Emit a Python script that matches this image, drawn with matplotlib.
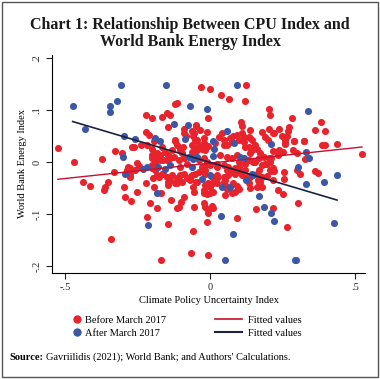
import numpy as np
import matplotlib.pyplot as plt
from matplotlib.lines import Line2D
from matplotlib.patches import Rectangle

plt.rcParams['font.family'] = ['Liberation Serif', 'DejaVu Serif']

# Before March 2017 (x = CPU index, y = WB energy index)
before_pts = [
    (-0.525, 0.028), (-0.468, 0.000), (-0.372, 0.006), (-0.329, 0.021), (-0.303, 0.018),
    (-0.268, 0.029), (-0.240, 0.033), (-0.221, 0.090), (-0.200, 0.085), (-0.167, 0.087),
    (-0.148, 0.094), (-0.123, 0.112), (-0.114, 0.113), (-0.137, 0.090), (-0.223, 0.058),
    (-0.211, 0.052), (-0.192, 0.041), (-0.202, 0.026), (-0.194, 0.013), (-0.202, 0.007),
    (-0.252, -0.001), (-0.244, -0.008), (-0.275, -0.011), (-0.258, -0.015), (-0.332, -0.020),
    (-0.200, -0.012), (-0.147, 0.067), (-0.123, 0.041), (-0.092, 0.063), (-0.089, 0.056),
    (-0.084, 0.051), (-0.094, 0.029), (-0.103, 0.023), (-0.062, 0.060), (-0.058, 0.051),
    (-0.049, 0.069), (-0.063, 0.033), (-0.046, 0.042), (-0.218, 0.033), (-0.264, 0.029),
    (-0.282, -0.009), (-0.287, -0.015), (-0.437, -0.039), (-0.414, -0.046), (-0.362, -0.047),
    (-0.351, -0.039), (-0.297, -0.047), (-0.365, -0.053), (-0.294, -0.067), (-0.272, -0.074),
    (-0.252, -0.058), (-0.277, -0.028), (-0.277, -0.022), (-0.221, -0.041), (-0.208, -0.078),
    (-0.194, -0.047), (-0.185, -0.088), (-0.218, -0.106), (-0.342, -0.148), (-0.168, -0.060),
    (-0.146, -0.119), (-0.168, -0.188), (-0.134, -0.073), (-0.115, -0.089), (-0.107, -0.086),
    (-0.100, -0.076), (-0.090, -0.067), (-0.055, -0.058), (-0.055, -0.086), (-0.061, -0.132),
    (-0.067, -0.174), (-0.008, -0.179), (-0.010, -0.116), (0.092, -0.107), (0.159, -0.091),
    (-0.021, -0.079), (-0.017, -0.086), (-0.006, -0.092), (0.006, -0.085), (0.011, -0.089),
    (-0.006, -0.097), (-0.023, -0.059), (-0.011, -0.062), (0.000, -0.060), (0.011, -0.057),
    (-0.023, -0.053), (-0.017, -0.044), (-0.006, -0.041), (0.011, -0.041), (0.023, -0.041),
    (-0.138, -0.035), (-0.146, -0.044), (-0.115, -0.041), (-0.109, -0.035), (-0.069, -0.035),
    (-0.063, -0.025), (0.058, -0.051), (0.075, -0.060), (0.086, -0.057), (0.098, -0.051),
    (0.080, -0.041), (0.052, -0.035), (0.046, -0.028), (0.063, -0.025), (0.086, -0.022),
    (0.109, -0.025), (0.132, -0.041), (0.161, -0.047), (0.136, -0.028), (-0.161, -0.022),
    (-0.040, -0.019), (-0.017, -0.022), (0.006, -0.028), (0.023, -0.025), (0.052, -0.063),
    (0.055, -0.045), (0.092, -0.045), (0.138, -0.050), (0.177, -0.047), (0.172, -0.038),
    (0.166, -0.035), (0.169, -0.027), (0.197, -0.027), (0.211, -0.017), (0.221, -0.017),
    (0.255, -0.019), (0.255, -0.033), (0.298, -0.015), (0.309, -0.022), (0.361, -0.017),
    (0.372, -0.021), (0.232, -0.054), (0.252, -0.062), (0.215, -0.088), (0.302, -0.079),
    (0.264, -0.124), (-0.031, 0.145), (0.000, 0.140), (0.036, 0.129), (0.066, 0.121),
    (0.121, 0.118), (0.124, 0.148), (-0.048, 0.071), (-0.006, 0.084), (0.106, 0.078),
    (0.111, 0.070), (-0.011, 0.057), (-0.023, 0.037), (-0.029, 0.026), (-0.017, 0.023),
    (-0.006, 0.031), (0.029, 0.049), (0.040, 0.055), (0.046, 0.042), (0.058, 0.033),
    (0.069, 0.046), (0.075, 0.039), (0.092, 0.052), (0.098, 0.042), (0.109, 0.055),
    (0.115, 0.039), (0.121, 0.029), (0.132, 0.049), (0.138, 0.062), (0.144, 0.042),
    (0.155, 0.033), (0.161, 0.026), (-0.052, 0.042), (-0.063, 0.020), (-0.040, 0.033),
    (-0.046, 0.023), (-0.058, 0.014), (-0.121, 0.042), (-0.115, 0.033), (-0.132, 0.023),
    (-0.144, 0.013), (-0.155, 0.020), (-0.167, 0.029), (-0.172, 0.013), (-0.184, 0.010),
    (-0.098, 0.017), (-0.109, 0.004), (-0.092, 0.007), (-0.080, -0.003), (-0.103, -0.009),
    (-0.040, 0.004), (-0.023, 0.007), (-0.011, 0.001), (0.000, -0.006), (-0.029, -0.009),
    (-0.017, -0.015), (0.034, 0.013), (0.058, 0.010), (0.075, 0.007), (0.092, 0.013),
    (0.098, 0.001), (0.121, -0.003), (0.132, 0.004), (0.155, 0.001), (0.167, 0.007),
    (0.023, -0.003), (0.046, -0.006), (0.063, -0.009), (0.086, -0.012), (0.103, -0.019),
    (0.121, -0.015), (-0.184, 0.017), (-0.201, 0.013), (-0.190, 0.001), (-0.172, 0.004),
    (-0.161, 0.004), (-0.149, 0.004), (-0.138, 0.007), (-0.126, 0.010), (-0.201, -0.006),
    (-0.190, -0.015), (-0.184, -0.025), (-0.178, -0.028), (-0.196, -0.031), (-0.167, -0.022),
    (-0.149, -0.028), (-0.144, -0.038), (-0.132, -0.025), (-0.121, -0.041), (-0.115, -0.031),
    (-0.103, -0.025), (-0.098, -0.038), (-0.092, -0.022), (-0.080, -0.031), (-0.069, -0.028),
    (-0.054, -0.022), (-0.049, -0.038), (-0.058, -0.047), (0.172, 0.017), (0.184, 0.010),
    (0.201, 0.007), (0.207, 0.001), (0.190, -0.003), (0.149, 0.001), (0.138, 0.017),
    (0.144, 0.023), (0.132, 0.029), (0.136, 0.046), (0.115, 0.048), (0.080, 0.050),
    (0.046, 0.033), (0.017, 0.036), (-0.057, 0.055), (-0.034, 0.062), (-0.023, 0.046),
    (-0.057, 0.029), (-0.011, -0.003), (-0.023, -0.015), (0.023, -0.009), (0.058, -0.015),
    (0.075, -0.019), (0.098, -0.009), (0.126, -0.028), (0.161, -0.022), (0.178, -0.028),
    (0.167, -0.038), (0.218, -0.035), (0.046, -0.038), (0.023, -0.031), (-0.046, -0.038),
    (0.000, -0.047), (0.202, 0.102), (0.207, 0.090), (0.283, 0.084), (0.382, 0.078),
    (0.362, 0.062), (0.394, 0.060), (0.203, 0.064), (0.218, 0.056), (0.236, 0.063),
    (0.267, 0.060), (0.270, 0.068), (0.178, 0.058), (0.190, 0.049), (0.259, 0.042),
    (0.264, 0.050), (0.287, 0.041), (0.322, 0.041), (0.256, 0.035), (0.385, 0.033),
    (0.397, 0.033), (0.437, 0.035), (0.523, 0.015), (0.284, 0.023), (0.299, 0.017),
    (0.218, 0.021), (0.236, 0.023), (0.325, 0.005), (0.200, 0.042), (0.220, 0.055),
    (0.246, 0.050), (0.257, 0.037), (0.289, 0.040), (0.324, 0.040), (0.252, 0.020),
    (0.234, 0.013), (0.211, 0.007), (0.217, -0.012), (0.206, -0.015), (0.169, -0.015),
    (0.177, -0.006), (0.194, -0.003),
]

# After March 2017
after_pts = [
    (-0.474, 0.108), (-0.433, 0.063), (-0.347, 0.108), (-0.347, 0.096), (-0.321, 0.117),
    (-0.306, 0.148), (-0.298, 0.051), (-0.299, 0.010), (-0.293, -0.023), (-0.258, 0.044),
    (-0.189, 0.047), (-0.173, 0.041), (-0.152, 0.148), (-0.218, -0.010), (-0.230, -0.014),
    (-0.179, -0.009), (-0.155, -0.013), (-0.139, -0.006), (-0.124, 0.073), (-0.086, 0.045),
    (-0.068, 0.108), (-0.076, 0.072), (-0.073, 0.010), (-0.058, 0.005), (-0.064, -0.010),
    (-0.011, 0.102), (0.094, 0.148), (0.336, 0.098), (0.058, 0.060), (0.010, 0.041),
    (0.082, 0.037), (0.209, 0.035), (0.012, 0.025), (0.009, 0.012), (-0.046, 0.010),
    (0.103, 0.010), (0.115, 0.007), (0.331, 0.020), (0.341, 0.008), (0.301, -0.010),
    (0.000, -0.025), (-0.029, -0.033), (0.144, -0.022), (0.149, -0.025), (0.122, -0.035),
    (0.437, -0.025), (0.391, -0.038), (0.331, -0.043), (0.040, -0.047), (0.067, -0.047),
    (0.169, -0.065), (0.184, -0.087), (0.209, -0.097), (0.221, -0.113), (0.037, -0.104),
    (0.078, -0.139), (0.425, -0.117), (0.052, -0.188), (0.291, -0.188), (0.297, -0.188),
    (-0.182, -0.059), (-0.213, -0.121),
]

# fitted values at the ends of each sample
before_fit_y = [-0.033, 0.029]
after_fit_y = [0.078, -0.073]

red = '#e8232c'
blue = '#3b57a5'
red_line = '#c8102e'
navy = '#1c2340'

bx, by = np.array(before_pts).T
ax_, ay = np.array(after_pts).T

fig = plt.figure(figsize=(3.8, 3.79), dpi=100)
ax = fig.add_axes([0.137, 0.28, 0.824, 0.575])

ax.scatter(bx, by, s=26, color=red, linewidths=0, zorder=2)
ax.scatter(ax_, ay, s=26, color=blue, linewidths=0, zorder=2)
ax.plot([bx.min(), bx.max()], before_fit_y, color=red_line, lw=1.0, zorder=3)
ax.plot([ax_.min(), ax_.max()], after_fit_y, color=navy, lw=1.2, zorder=3)

ax.set_xlim(-0.545, 0.534)
ax.set_ylim(-0.213, 0.206)
ax.set_xticks([-0.5, 0, 0.5])
ax.set_xticklabels(['-.5', '0', '.5'])
ax.set_yticks([-0.2, -0.1, 0, 0.1, 0.2])
ax.set_yticklabels(['-.2', '-.1', '0', '.1', '.2'], rotation=90, va='center')
ax.tick_params(labelsize=7.5, length=4, width=0.8, colors='#222222')
for s in ['top', 'right']:
    ax.spines[s].set_visible(False)
for s in ['left', 'bottom']:
    ax.spines[s].set_linewidth(0.8)

ax.set_xlabel('Climate Policy Uncertainty Index', fontsize=7.5, labelpad=3)
ax.set_ylabel('World Bank Energy Index', fontsize=7.5, labelpad=4)

fig.text(0.5, 0.955, 'Chart 1: Relationship Between CPU Index and\nWorld Bank Energy Index',
         ha='center', va='top', fontsize=11.5, fontweight='bold', linespacing=1.1, color='#1a1a1a')

dots = [Line2D([], [], ls='none', marker='o', ms=5, color=red),
        Line2D([], [], ls='none', marker='o', ms=5, color=blue)]
lines = [Line2D([], [], color=red_line, lw=1.2),
         Line2D([], [], color=navy, lw=1.5)]
leg1 = fig.legend(dots, ['Before March 2017', 'After March 2017'], loc='center left',
                  bbox_to_anchor=(0.17, 0.138), frameon=False, fontsize=7.5,
                  handlelength=0.6, labelspacing=0.35, handletextpad=0.5)
leg2 = fig.legend(lines, ['Fitted values', 'Fitted values'], loc='center left',
                  bbox_to_anchor=(0.54, 0.138), frameon=False, fontsize=7.5,
                  handlelength=2.6, labelspacing=0.35, handletextpad=0.6)

fig.text(0.026, 0.058, 'Source:', fontsize=7.5, fontweight='bold', va='center')
fig.text(0.122, 0.058, "Gavriilidis (2021); World Bank; and Authors' Calculations.",
         fontsize=7.5, va='center')

fig.add_artist(Rectangle((0.006, 0.006), 0.988, 0.988, transform=fig.transFigure,
                         fill=False, edgecolor='#555555', lw=1.0))

plt.savefig('out.png', dpi=100)
